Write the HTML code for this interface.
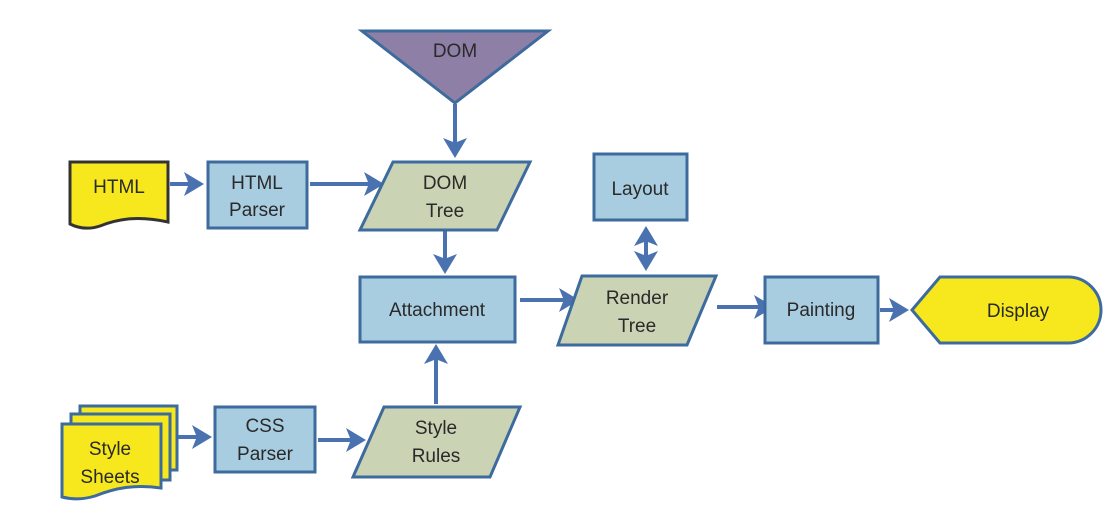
<!DOCTYPE html>
<html><head><meta charset="utf-8"><style>
html,body{margin:0;padding:0;background:#fff}
svg text{font-family:"Liberation Sans",sans-serif;font-size:19px;fill:#2a2a2a;text-anchor:middle}
</style></head><body>
<svg width="1113" height="505" viewBox="0 0 1113 505" xmlns="http://www.w3.org/2000/svg">
<defs>
<marker id="a" markerWidth="6" markerHeight="6" refX="4" refY="3" orient="auto" markerUnits="strokeWidth">
<path d="M0,0 L5,3 L0,6 L1.2,3 Z" fill="#4a72b0"/></marker>
<marker id="b" markerWidth="6" markerHeight="6" refX="4" refY="3" orient="auto-start-reverse" markerUnits="strokeWidth">
<path d="M0,0 L5,3 L0,6 L1.2,3 Z" fill="#4a72b0"/></marker>
</defs>
<g stroke="#4a72b0" stroke-width="4" fill="none">
<line x1="455" y1="104" x2="455" y2="154" marker-end="url(#a)"/>
<line x1="170" y1="184" x2="200" y2="184" marker-end="url(#a)"/>
<line x1="310" y1="184" x2="380" y2="184" marker-end="url(#a)"/>
<line x1="445" y1="231" x2="445" y2="270" marker-end="url(#a)"/>
<line x1="436" y1="404" x2="436" y2="348" marker-end="url(#a)"/>
<line x1="520" y1="300" x2="575" y2="300" marker-end="url(#a)"/>
<line x1="646" y1="230" x2="646" y2="267" marker-start="url(#b)" marker-end="url(#b)"/>
<line x1="717" y1="307" x2="770" y2="307" marker-end="url(#a)"/>
<line x1="880" y1="310" x2="905" y2="310" marker-end="url(#a)"/>
<line x1="178" y1="437" x2="208" y2="437" marker-end="url(#a)"/>
<line x1="318" y1="440" x2="362" y2="440" marker-end="url(#a)"/>
</g>
<g stroke="#3e6b9e" stroke-width="3">
<polygon points="362,31 548,31 455,103" fill="#8e7fa6"/>
<path d="M70,162 L168,162 L168,222 C140,216 120,218 100,226 C88,230 78,228 70,224 Z" fill="#f6e81c" stroke="#333"/>
<rect x="208" y="162" width="99" height="66" fill="#a9cde0"/>
<polygon points="393,162 530,162 497,230 360,230" fill="#cad3b3"/>
<rect x="360" y="277" width="155" height="65" fill="#a9cde0"/>
<rect x="594" y="154" width="93" height="66" fill="#a9cde0"/>
<polygon points="582,276 716,276 687,345 558,345" fill="#cad3b3"/>
<rect x="765" y="277" width="113" height="66" fill="#a9cde0"/>
<path d="M912,310 L940,277 L1068,277 A33,33 0 0 1 1068,343 L940,343 Z" fill="#f6e81c"/>
<path d="M80,406 L177,406 L177,470 L80,470 Z" fill="#f6e81c"/>
<path d="M71,414 L170,414 L170,480 L71,480 Z" fill="#f6e81c"/>
<path d="M62,424 L161,424 L161,488 C135,484 115,488 95,496 C82,500 70,499 62,497 Z" fill="#f6e81c"/>
<rect x="215" y="407" width="100" height="65" fill="#a9cde0"/>
<polygon points="384,407 520,407 490,477 353,477" fill="#cad3b3"/>
</g>
<text x="455" y="57" fill="#333">DOM</text>
<text x="119" y="193">HTML</text>
<text x="257" y="189">HTML</text><text x="257" y="216">Parser</text>
<text x="445" y="189">DOM</text><text x="445" y="217">Tree</text>
<text x="437" y="316">Attachment</text>
<text x="640" y="195">Layout</text>
<text x="637" y="304">Render</text><text x="637" y="332">Tree</text>
<text x="821" y="316">Painting</text>
<text x="1018" y="317">Display</text>
<text x="110" y="455">Style</text><text x="110" y="483">Sheets</text>
<text x="265" y="432">CSS</text><text x="265" y="460">Parser</text>
<text x="436" y="434">Style</text><text x="436" y="462">Rules</text>
</svg>
</body></html>
